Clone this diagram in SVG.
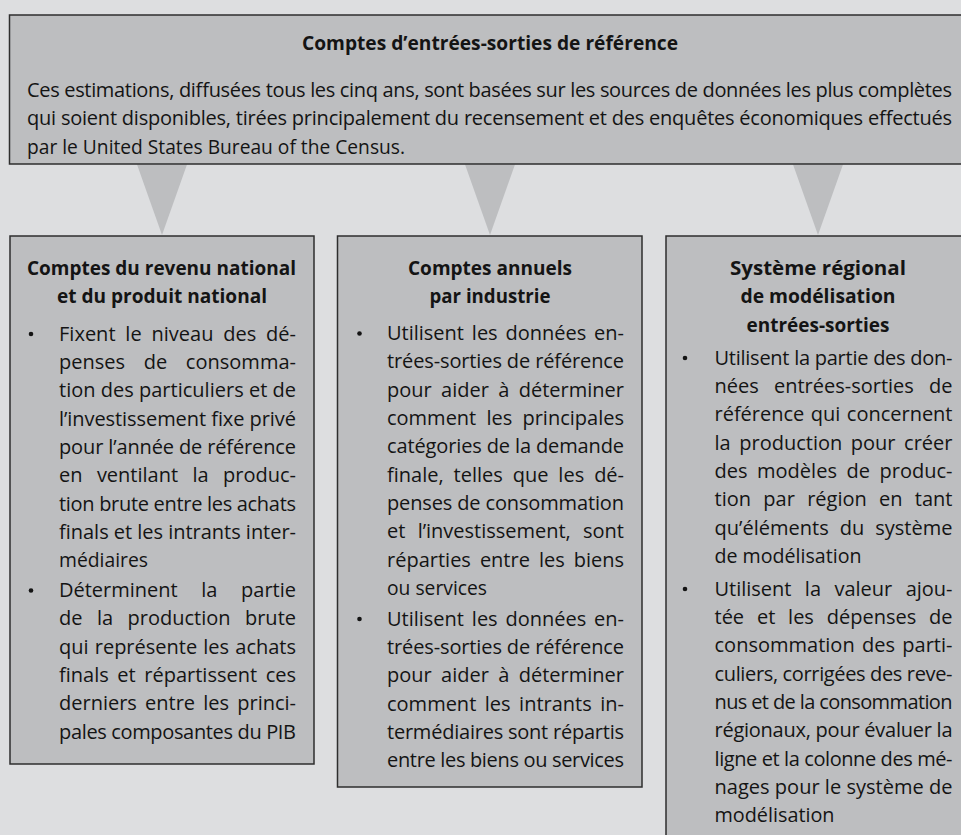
<svg xmlns="http://www.w3.org/2000/svg" width="961" height="835" viewBox="0 0 961 835">
<style>
.bg{fill:#dddee0}
.box{fill:#bdbec0;stroke:#2e2e2e;stroke-width:1.5}
.tri{fill:#bdbec0}
text{font-family:"Open Sans","Noto Sans","DejaVu Sans",sans-serif;font-size:20px;fill:#141414}
.h{font-weight:bold}
.dot{fill:#141414}
</style>
<rect class="bg" x="0" y="0" width="961" height="835"/>
<g id="connectors">
<polygon class="tri" points="137,164.5 187,164.5 162,235"/>
<polygon class="tri" points="465,164.5 515,164.5 490,235"/>
<polygon class="tri" points="793,164.5 843,164.5 818,235"/>
</g>
<g id="node-top">
<rect class="box" x="9.5" y="15" width="961" height="149"/>
<text class="h" x="302" y="50" textLength="376" lengthAdjust="spacingAndGlyphs">Comptes d’entrées-sorties de référence</text>
<text x="27" y="97" textLength="925" lengthAdjust="spacing">Ces estimations, diffusées tous les cinq ans, sont basées sur les sources de données les plus complètes</text>
<text x="27" y="125.3" textLength="925" lengthAdjust="spacing">qui soient disponibles, tirées principalement du recensement et des enquêtes économiques effectués</text>
<text x="27" y="153.6" textLength="378" lengthAdjust="spacingAndGlyphs">par le United States Bureau of the Census.</text>
</g>
<g id="node-left">
<rect class="box" x="10" y="236" width="304" height="528"/>
<text class="h" x="27" y="274.5" textLength="269" lengthAdjust="spacingAndGlyphs">Comptes du revenu national</text>
<text class="h" x="57" y="303" textLength="210" lengthAdjust="spacingAndGlyphs">et du produit national</text>
<circle class="dot" cx="31" cy="334" r="2.3"/>
<text x="59" y="340.5" word-spacing="4.6" textLength="237" lengthAdjust="spacing">Fixent le niveau des dé-</text>
<text x="59" y="368.8" word-spacing="13.4" textLength="237" lengthAdjust="spacing">penses de consomma-</text>
<text x="59" y="397.2" textLength="237" lengthAdjust="spacing">tion des particuliers et de</text>
<text x="59" y="425.5" textLength="237" lengthAdjust="spacing">l’investissement fixe privé</text>
<text x="59" y="453.8" textLength="237" lengthAdjust="spacing">pour l’année de référence</text>
<text x="59" y="482.2" word-spacing="9.2" textLength="237" lengthAdjust="spacing">en ventilant la produc-</text>
<text x="59" y="510.5" textLength="237" lengthAdjust="spacing">tion brute entre les achats</text>
<text x="59" y="538.8" textLength="237" lengthAdjust="spacing">finals et les intrants inter-</text>
<text x="59" y="567.1" textLength="89" lengthAdjust="spacingAndGlyphs">médiaires</text>
<circle class="dot" cx="31" cy="590.5" r="2.3"/>
<text x="59" y="597" word-spacing="18.5" textLength="237" lengthAdjust="spacing">Déterminent la partie</text>
<text x="59" y="625.3" word-spacing="9.2" textLength="237" lengthAdjust="spacing">de la production brute</text>
<text x="59" y="653.7" word-spacing="1" textLength="237" lengthAdjust="spacing">qui représente les achats</text>
<text x="59" y="682" word-spacing="3.4" textLength="237" lengthAdjust="spacing">finals et répartissent ces</text>
<text x="59" y="710.3" word-spacing="3" textLength="237" lengthAdjust="spacing">derniers entre les princi-</text>
<text x="59" y="738.7" textLength="237" lengthAdjust="spacing">pales composantes du PIB</text>
</g>
<g id="node-middle">
<rect class="box" x="337.5" y="236" width="304.5" height="551"/>
<text class="h" x="408" y="274.5" textLength="164" lengthAdjust="spacingAndGlyphs">Comptes annuels</text>
<text class="h" x="429.5" y="303" textLength="121" lengthAdjust="spacingAndGlyphs">par industrie</text>
<circle class="dot" cx="359.5" cy="333.5" r="2.3"/>
<text x="387" y="340" word-spacing="2.7" textLength="237" lengthAdjust="spacing">Utilisent les données en-</text>
<text x="387" y="368.3" textLength="237" lengthAdjust="spacing">trées-sorties de référence</text>
<text x="387" y="396.7" word-spacing="4.1" textLength="237" lengthAdjust="spacing">pour aider à déterminer</text>
<text x="387" y="425" word-spacing="5" textLength="237" lengthAdjust="spacing">comment les principales</text>
<text x="387" y="453.3" textLength="237" lengthAdjust="spacing">catégories de la demande</text>
<text x="387" y="481.7" word-spacing="4.8" textLength="237" lengthAdjust="spacing">finale, telles que les dé-</text>
<text x="387" y="510" textLength="237" lengthAdjust="spacing">penses de consommation</text>
<text x="387" y="538.3" word-spacing="7.1" textLength="237" lengthAdjust="spacing">et l’investissement, sont</text>
<text x="387" y="566.7" word-spacing="3.8" textLength="237" lengthAdjust="spacing">réparties entre les biens</text>
<text x="387" y="595" textLength="100" lengthAdjust="spacingAndGlyphs">ou services</text>
<circle class="dot" cx="359.5" cy="619" r="2.3"/>
<text x="387" y="625.5" word-spacing="2.7" textLength="237" lengthAdjust="spacing">Utilisent les données en-</text>
<text x="387" y="653.8" textLength="237" lengthAdjust="spacing">trées-sorties de référence</text>
<text x="387" y="682.2" word-spacing="4.1" textLength="237" lengthAdjust="spacing">pour aider à déterminer</text>
<text x="387" y="710.5" word-spacing="3.3" textLength="237" lengthAdjust="spacing">comment les intrants in-</text>
<text x="387" y="738.8" textLength="237" lengthAdjust="spacing">termédiaires sont répartis</text>
<text x="387" y="767.2" textLength="237" lengthAdjust="spacing">entre les biens ou services</text>
</g>
<g id="node-right">
<rect class="box" x="666" y="236" width="310" height="610"/>
<text class="h" x="730" y="274.5" textLength="176" lengthAdjust="spacingAndGlyphs">Système régional</text>
<text class="h" x="740.5" y="303" textLength="155" lengthAdjust="spacingAndGlyphs">de modélisation</text>
<text class="h" x="746.5" y="331.5" textLength="143" lengthAdjust="spacingAndGlyphs">entrées-sorties</text>
<circle class="dot" cx="685" cy="358" r="2.3"/>
<text x="714.5" y="364.5" textLength="238" lengthAdjust="spacing">Utilisent la partie des don-</text>
<text x="714.5" y="392.8" word-spacing="10" textLength="238" lengthAdjust="spacing">nées entrées-sorties de</text>
<text x="714.5" y="421.2" word-spacing="1.3" textLength="238" lengthAdjust="spacing">référence qui concernent</text>
<text x="714.5" y="449.5" word-spacing="3.4" textLength="238" lengthAdjust="spacing">la production pour créer</text>
<text x="714.5" y="477.8" word-spacing="4.3" textLength="238" lengthAdjust="spacing">des modèles de produc-</text>
<text x="714.5" y="506.2" word-spacing="7.1" textLength="238" lengthAdjust="spacing">tion par région en tant</text>
<text x="714.5" y="534.5" word-spacing="5.8" textLength="238" lengthAdjust="spacing">qu’éléments du système</text>
<text x="714.5" y="562.8" textLength="147" lengthAdjust="spacingAndGlyphs">de modélisation</text>
<circle class="dot" cx="685" cy="589" r="2.3"/>
<text x="714.5" y="595.5" word-spacing="8.3" textLength="238" lengthAdjust="spacing">Utilisent la valeur ajou-</text>
<text x="714.5" y="623.8" word-spacing="7.6" textLength="238" lengthAdjust="spacing">tée et les dépenses de</text>
<text x="714.5" y="652.2" word-spacing="2.1" textLength="238" lengthAdjust="spacing">consommation des parti-</text>
<text x="714.5" y="680.5" textLength="238" lengthAdjust="spacing">culiers, corrigées des reve-</text>
<text x="714.5" y="708.8" textLength="238" lengthAdjust="spacing">nus et de la consommation</text>
<text x="714.5" y="737.2" textLength="238" lengthAdjust="spacing">régionaux, pour évaluer la</text>
<text x="714.5" y="765.5" textLength="238" lengthAdjust="spacing">ligne et la colonne des mé-</text>
<text x="714.5" y="793.8" textLength="238" lengthAdjust="spacing">nages pour le système de</text>
<text x="714.5" y="822.2" textLength="120" lengthAdjust="spacingAndGlyphs">modélisation</text>
</g>
</svg>
